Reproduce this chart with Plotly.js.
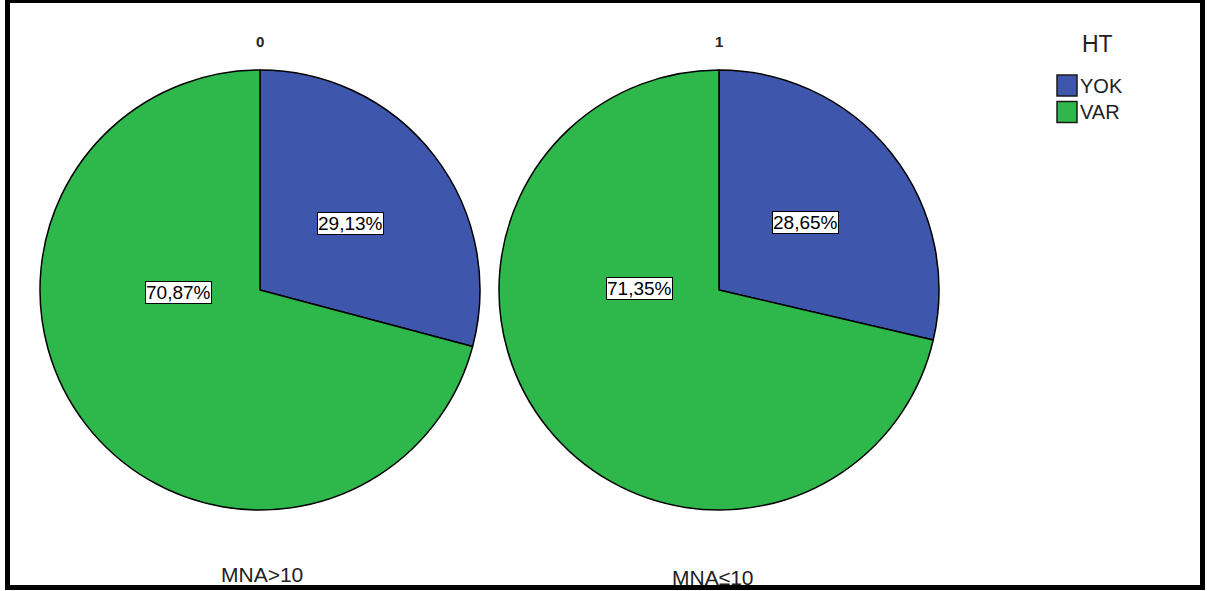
<!DOCTYPE html>
<html>
<head>
<meta charset="utf-8">
<script src="https://cdn.plot.ly/plotly-3.0.1.min.js"></script>
<style>
  html, body { margin: 0; padding: 0; background: #ffffff; }
  #chart { width: 1207px; height: 591px; }
</style>
</head>
<body>
<div id="chart"></div>
<script>
// Hypertension (HT) share by MNA group
const categories = ['YOK', 'VAR'];
const panelTitles = ['0', '1'];
const panelCaptions = ['MNA>10', 'MNA≤10'];
const percentMNAabove10 = [29.13, 70.87];
const percentMNAatMost10 = [28.65, 71.35];
const legendTitle = 'HT';

const sliceColors = ['#3e57ad', '#2eb84b'];
const FONT = 'Liberation Sans, Arial, sans-serif';
const W = 1207, H = 591;
const X = px => px / W;          // pixel -> paper x
const Y = py => 1 - py / H;      // pixel -> paper y

const panels = [
  { values: percentMNAabove10, dom: [40, 480], labelPos: [[350, 223], [178, 292]], cx: 260, capX: 262, capY: 574 },
  { values: percentMNAatMost10, dom: [499, 939], labelPos: [[806, 222], [639, 288]], cx: 719, capX: 713, capY: 577 }
];

const fmt = v => v.toFixed(2).replace('.', ',') + '%';

const traces = panels.map(p => ({
  type: 'pie',
  labels: categories,
  values: p.values,
  sort: false,
  direction: 'clockwise',
  rotation: 0,
  textinfo: 'none',
  hoverinfo: 'label+value',
  showlegend: false,
  marker: { colors: sliceColors, line: { color: '#000000', width: 1.5 } },
  domain: { x: [X(p.dom[0]), X(p.dom[1])], y: [Y(511), Y(69)] }
}));

const annotations = [];
const shapes = [];

panels.forEach((p, i) => {
  // value labels
  p.values.forEach((v, k) => {
    annotations.push({
      xref: 'paper', yref: 'paper',
      x: X(p.labelPos[k][0]), y: Y(p.labelPos[k][1]),
      xanchor: 'center', yanchor: 'middle',
      text: fmt(v), showarrow: false,
      font: { family: FONT, size: 19, color: '#000000' },
      bgcolor: '#ffffff', bordercolor: '#000000', borderwidth: 1, borderpad: 0
    });
  });
  // panel heading
  annotations.push({
    xref: 'paper', yref: 'paper', x: X(p.cx), y: Y(42),
    xanchor: 'center', yanchor: 'middle', showarrow: false,
    text: '<b>' + panelTitles[i] + '</b>',
    font: { family: FONT, size: 15, color: '#222222' }
  });
  // panel caption
  annotations.push({
    xref: 'paper', yref: 'paper', x: X(p.capX), y: Y(p.capY),
    xanchor: 'center', yanchor: 'middle', showarrow: false,
    text: panelCaptions[i],
    font: { family: FONT, size: 21, color: '#222222' }
  });
});

// legend block
annotations.push({
  xref: 'paper', yref: 'paper', x: X(1097), y: Y(44),
  xanchor: 'center', yanchor: 'middle', showarrow: false,
  text: legendTitle, font: { family: FONT, size: 23, color: '#222222' }
});
categories.forEach((c, k) => {
  const top = 75 + k * 26.5;
  shapes.push({
    type: 'rect', xref: 'paper', yref: 'paper',
    x0: X(1057), x1: X(1077), y0: Y(top), y1: Y(top + 21),
    fillcolor: sliceColors[k], line: { color: '#1a1a1a', width: 1.5 }
  });
  annotations.push({
    xref: 'paper', yref: 'paper', x: X(1078), y: Y(top + 11),
    xanchor: 'left', yanchor: 'middle', showarrow: false,
    text: c, font: { family: FONT, size: 20, color: '#222222' }
  });
});

// outer frame
shapes.push({
  type: 'rect', xref: 'paper', yref: 'paper',
  x0: X(7.5), x1: X(1202.5), y0: Y(0.5), y1: Y(587.5),
  line: { color: '#000000', width: 5 }, fillcolor: 'rgba(0,0,0,0)'
});

const layout = {
  width: W, height: H,
  margin: { l: 0, r: 0, t: 0, b: 0 },
  paper_bgcolor: '#ffffff',
  plot_bgcolor: '#ffffff',
  showlegend: false,
  annotations: annotations,
  shapes: shapes
};

Plotly.newPlot('chart', traces, layout, { displayModeBar: false, staticPlot: true });
</script>
</body>
</html>
